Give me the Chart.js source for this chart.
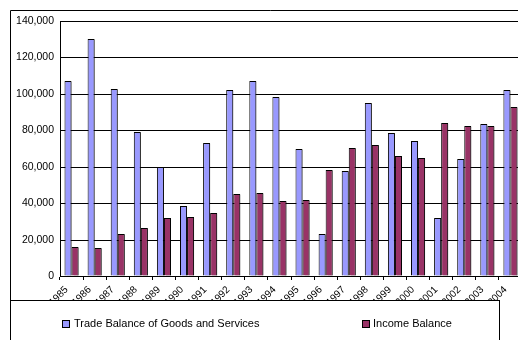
<!DOCTYPE html>
<html>
<head>
<meta charset="utf-8">
<script src="https://cdn.jsdelivr.net/npm/chart.js@4/dist/chart.umd.min.js"></script>
<style>
  html, body { margin: 0; padding: 0; background: #fff; overflow: hidden; }
  #wrap { width: 518px; height: 340px; overflow: hidden; position: relative; }
  canvas { display: block; }
</style>
</head>
<body>
<div id="wrap"><canvas id="balanceChart" width="530" height="340"></canvas></div>
<script>
// Data
const years = ['1985', '1986', '1987', '1988', '1989', '1990', '1991', '1992', '1993', '1994',
               '1995', '1996', '1997', '1998', '1999', '2000', '2001', '2002', '2003', '2004'];
const tradeBalance = [107000, 130000, 102500, 79300, 59800, 38500, 73000, 102000, 107000, 98100,
                      69500, 23200, 57600, 95200, 78400, 74000, 31900, 64500, 83300, 102000];
const incomeBalance = [16100, 15500, 23200, 26500, 31900, 32500, 34700, 45100, 45600, 41200,
                       41800, 58200, 70200, 71700, 65900, 64800, 83900, 82600, 82600, 92700];
const seriesNames = ['Trade Balance of Goods and Services', 'Income Balance'];
const seriesColors = ['#9999ff', '#993366'];
const yMax = 140000;
const yStep = 20000;

// soft shadow behind bars
const barShadow = {
  id: 'barShadow',
  beforeDatasetsDraw(chart) {
    const ctx = chart.ctx;
    ctx.save();
    ctx.shadowColor = 'rgba(0,0,0,0.3)';
    ctx.shadowOffsetX = 2;
    ctx.shadowOffsetY = 1;
    ctx.shadowBlur = 0;
  },
  afterDatasetsDraw(chart) {
    chart.ctx.restore();
  }
};

// outer frame and legend box (legend box covers the bottom of the year labels)
const frameAndLegend = {
  id: 'frameAndLegend',
  afterDraw(chart) {
    const ctx = chart.ctx;
    ctx.save();
    ctx.strokeStyle = '#000';
    ctx.lineWidth = 1;
    ctx.beginPath();
    ctx.moveTo(10.5, 345);
    ctx.lineTo(10.5, 10.5);
    ctx.lineTo(540, 10.5);
    ctx.stroke();

    ctx.fillStyle = '#fff';
    ctx.fillRect(10.5, 300.5, 489, 50);
    ctx.strokeRect(10.5, 300.5, 489, 50);

    const items = [{ x: 62.5, tx: 74 }, { x: 362.5, tx: 373 }];
    ctx.font = '11px "Liberation Sans", Arial, sans-serif';
    ctx.textBaseline = 'middle';
    items.forEach((it, i) => {
      ctx.fillStyle = seriesColors[i];
      ctx.fillRect(it.x, 320.5, 7, 7);
      ctx.strokeStyle = '#000';
      ctx.strokeRect(it.x, 320.5, 7, 7);
      ctx.fillStyle = '#000';
      ctx.fillText(seriesNames[i], it.tx, 324);
    });
    ctx.restore();
  }
};

new Chart(document.getElementById('balanceChart'), {
  type: 'bar',
  data: {
    labels: years,
    datasets: [{
      label: seriesNames[0],
      data: tradeBalance,
      backgroundColor: seriesColors[0],
      borderColor: '#000',
      borderWidth: 1,
      categoryPercentage: 0.61,
      barPercentage: 1.0
    }, {
      label: seriesNames[1],
      data: incomeBalance,
      backgroundColor: seriesColors[1],
      borderColor: '#000',
      borderWidth: 1,
      categoryPercentage: 0.61,
      barPercentage: 1.0
    }]
  },
  options: {
    responsive: false,
    animation: false,
    devicePixelRatio: 1,
    layout: { padding: { left: 0, top: 21, right: 8, bottom: 0 } },
    plugins: {
      legend: { display: false },
      tooltip: { enabled: false }
    },
    scales: {
      x: {
        afterFit: s => { s.height = 64; },
        grid: { display: true, drawOnChartArea: false, offset: true, tickLength: 4, color: '#000' },
        border: { color: '#000', width: 1 },
        ticks: {
          autoSkip: false, minRotation: 45, maxRotation: 45, padding: 4, labelOffset: -5,
          color: '#000', font: { family: '"Liberation Sans", Arial, sans-serif', size: 10 }
        }
      },
      y: {
        min: 0, max: yMax,
        afterFit: s => { s.width = 60; },
        alignToPixels: true,
        grid: { color: '#000', lineWidth: 1, drawTicks: false },
        border: { color: '#000', width: 1 },
        ticks: {
          stepSize: yStep, padding: 6, color: '#000',
          font: { family: '"Liberation Sans", Arial, sans-serif', size: 10.5 },
          callback: v => v.toLocaleString('en-US')
        }
      }
    }
  },
  plugins: [barShadow, frameAndLegend]
});
</script>
</body>
</html>
